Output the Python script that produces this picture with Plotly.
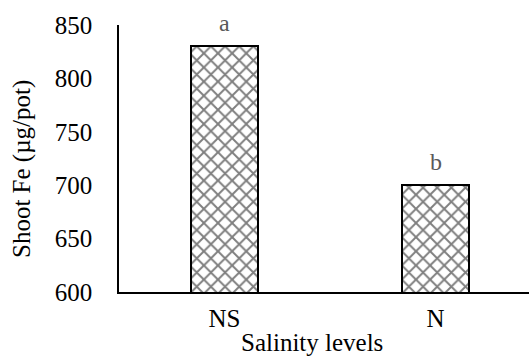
import plotly.graph_objects as go

categories = ["NS", "N"]
values = [830, 700]
letters = ["a", "b"]
y_ticks = [600, 650, 700, 750, 800, 850]

FONT = "Times New Roman, Liberation Serif, serif"

fig = go.Figure()
fig.add_trace(go.Bar(
    x=categories,
    y=values,
    width=0.315,
    marker=dict(
        color="white",
        line=dict(color="black", width=2),
        pattern=dict(shape="x", fgcolor="black", bgcolor="white", size=10, solidity=0.35),
    ),
    showlegend=False,
))

for c, v, t in zip(categories, values, letters):
    fig.add_annotation(x=c, y=v, text=t, showarrow=False, yanchor="bottom",
                       yshift=8, font=dict(family=FONT, size=24, color="#595959"))

# axis titles placed as paper annotations
fig.add_annotation(xref="paper", yref="paper", x=0.471, y=-0.19, text="Salinity levels",
                   showarrow=False, xanchor="center", yanchor="middle",
                   font=dict(family=FONT, size=25, color="black"))
fig.add_annotation(xref="paper", yref="paper", x=-0.2366, y=0.4607, text="Shoot Fe (µg/pot)",
                   showarrow=False, textangle=-90, xanchor="center", yanchor="middle",
                   font=dict(family=FONT, size=25, color="black"))

fig.update_layout(
    width=529, height=356,
    margin=dict(l=119, r=0, t=25, b=64),
    plot_bgcolor="white", paper_bgcolor="white",
    font=dict(family=FONT, size=25, color="black"),
    bargap=0,
)
fig.update_xaxes(
    range=[-0.5, 1.443], showline=True, linecolor="black", linewidth=1.5,
    showgrid=False, ticks="", ticklabelstandoff=3,
)
fig.update_yaxes(
    range=[600, 850], tickvals=y_ticks, showline=True, linecolor="black", linewidth=1.5,
    showgrid=False, ticks="", ticklabelstandoff=20, zeroline=False,
)

fig.write_html("out.html")
